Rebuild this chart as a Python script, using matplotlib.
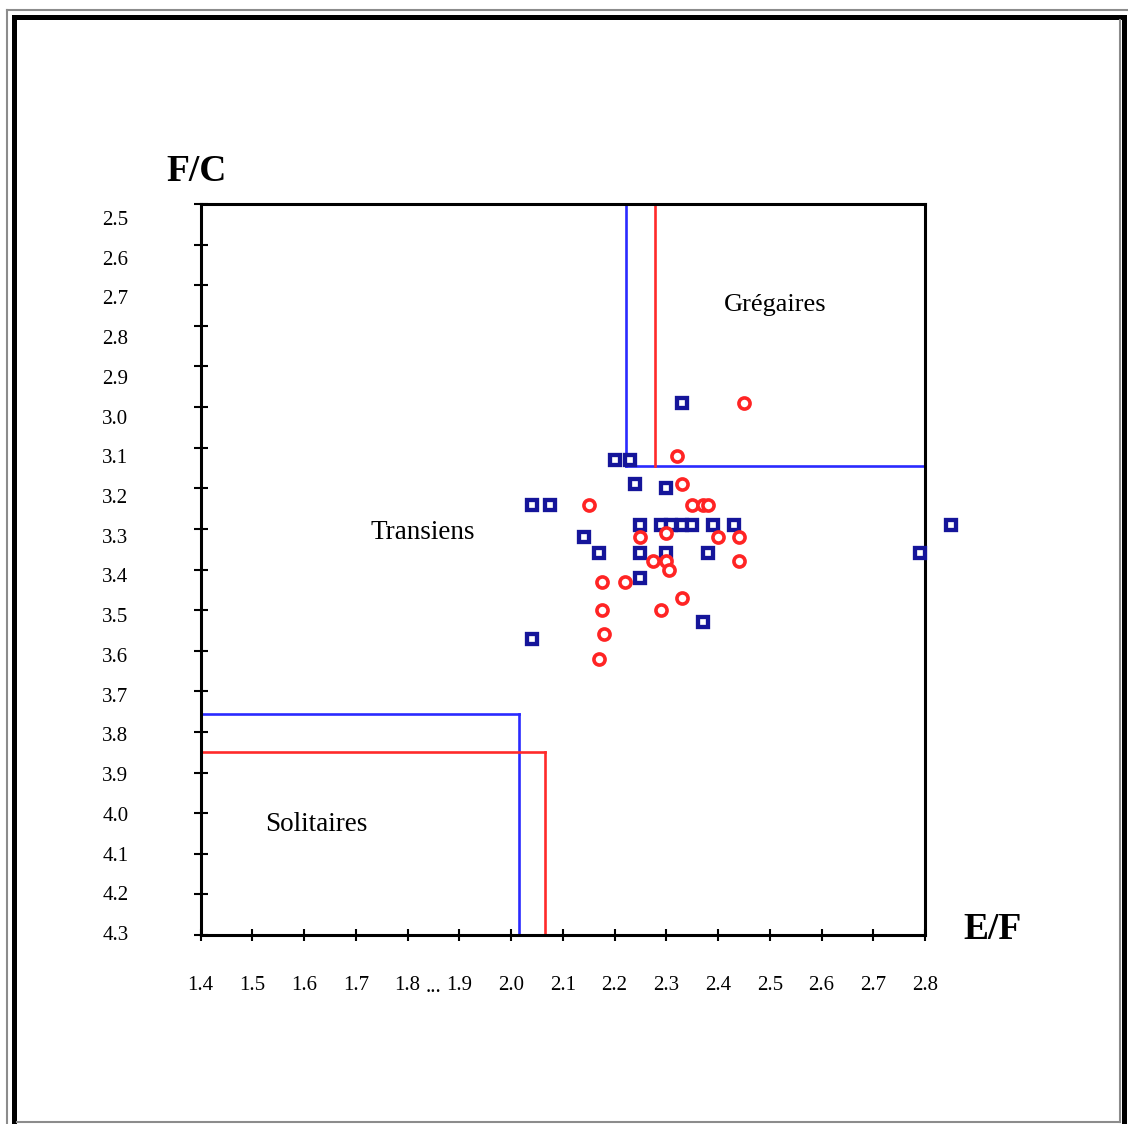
import matplotlib
matplotlib.use("Agg")
import matplotlib.pyplot as plt
import matplotlib.transforms as mtransforms
from matplotlib.lines import Line2D
from matplotlib.patches import Rectangle

plt.rcParams['font.family'] = ['Liberation Serif', 'DejaVu Serif']

# ---- data: E/F (x) versus F/C (y) ----
blue_x = [2.33, 2.20, 2.23, 2.24, 2.30, 2.04, 2.075, 2.25, 2.29, 2.31, 2.33,
          2.35, 2.39, 2.43, 2.14, 2.17, 2.25, 2.30, 2.38, 2.25, 2.37, 2.04,
          2.79, 2.85]
blue_y = [2.99, 3.13, 3.13, 3.19, 3.20, 3.24, 3.24, 3.29, 3.29, 3.29, 3.29,
          3.29, 3.29, 3.29, 3.32, 3.36, 3.36, 3.36, 3.36, 3.42, 3.53, 3.57,
          3.36, 3.29]

red_x = [2.45, 2.32, 2.33, 2.15, 2.35, 2.37, 2.38, 2.30, 2.25, 2.40, 2.44,
         2.275, 2.30, 2.305, 2.44, 2.175, 2.22, 2.33, 2.175, 2.29, 2.18, 2.17]
red_y = [2.99, 3.12, 3.19, 3.24, 3.24, 3.24, 3.24, 3.31, 3.32, 3.32, 3.32,
         3.38, 3.38, 3.40, 3.38, 3.43, 3.43, 3.47, 3.50, 3.50, 3.56, 3.62]

# phase thresholds (E/F, F/C)
greg_blue = (2.222, 3.145)
greg_red = (2.279, 3.145)
sol_blue = (2.016, 3.757)
sol_red = (2.065, 3.849)

x_ticks = [1.4, 1.5, 1.6, 1.7, 1.8, 1.9, 2.0, 2.1, 2.2, 2.3, 2.4, 2.5, 2.6, 2.7, 2.8]
x_labels = ['1.4', '1.5', '1.6', '1.7', '1.8', '1.9', '2.0', '2.1', '2.2', '2.3',
            '2.4', '2.5', '2.6', '2.7', '2.8']
y_ticks = [2.5, 2.6, 2.7, 2.8, 2.9, 3.0, 3.1, 3.2, 3.3, 3.4, 3.5, 3.6, 3.7, 3.8,
           3.9, 4.0, 4.1, 4.2, 4.3]
y_labels = ['2.5', '2.6', '2.7', '2.8', '2.9', '3.0', '3.1', '3.2', '3.3', '3.4',
            '3.5', '3.6', '3.7', '3.8', '3.9', '4.0', '4.1', '4.2', '4.3']

W, H = 1128, 1124
fig = plt.figure(figsize=(W / 100, H / 100), dpi=100)
fig.patch.set_facecolor('white')

ax_l, ax_r, ax_t, ax_b = 200.7, 925.0, 204.0, 935.0
ax = fig.add_axes([ax_l / W, (H - ax_b) / H, (ax_r - ax_l) / W, (ax_b - ax_t) / H])
ax.set_xlim(1.4, 2.8)
ax.set_ylim(4.3, 2.5)

for sp in ax.spines.values():
    sp.set_linewidth(2.2)
    sp.set_color('black')

BLUE_LINE = '#2a2aff'
RED_LINE = '#ff2a2a'
lw = 1.9

# gregarious corner
ax.plot([greg_blue[0], greg_blue[0]], [2.5, greg_blue[1]], color=BLUE_LINE, lw=lw, zorder=2)
ax.plot([greg_blue[0], 2.8], [greg_blue[1], greg_blue[1]], color=BLUE_LINE, lw=lw, zorder=2)
ax.plot([greg_red[0], greg_red[0]], [2.5, greg_red[1]], color=RED_LINE, lw=lw, zorder=2)

# solitary corner
ax.plot([1.4, sol_blue[0]], [sol_blue[1], sol_blue[1]], color=BLUE_LINE, lw=lw, zorder=2)
ax.plot([sol_blue[0], sol_blue[0]], [sol_blue[1], 4.3], color=BLUE_LINE, lw=lw, zorder=2)
ax.plot([1.4, sol_red[0]], [sol_red[1], sol_red[1]], color=RED_LINE, lw=lw, zorder=2)
ax.plot([sol_red[0], sol_red[0]], [sol_red[1], 4.3], color=RED_LINE, lw=lw, zorder=2)

# individuals
ax.plot(blue_x, blue_y, ls='none', marker='s', ms=7.4, mew=3.1,
        mec='#15159a', mfc='white', zorder=4, clip_on=False)
ax.plot(red_x, red_y, ls='none', marker='o', ms=8.0, mew=2.6,
        mec='#ff2424', mfc='white', zorder=4, clip_on=False)

# ticks
ax.set_xticks(x_ticks, x_labels)
ax.set_yticks(y_ticks, y_labels)
ax.tick_params(axis='x', direction='inout', length=8.6, width=1.5, pad=25.5,
               labelsize=15, colors='black')
ax.tick_params(axis='y', direction='inout', length=10, width=1.5, pad=47,
               labelsize=15, colors='black')
ax.minorticks_off()

# y labels drift slightly below their ticks toward the top of the scale
n = len(y_labels)
for i, lab in enumerate(ax.get_yticklabels()):
    dy = 14 - 16 * i / (n - 1)
    lab.set_transform(lab.get_transform() +
                      mtransforms.ScaledTranslation(0, -dy / 100, fig.dpi_scale_trans))

# ellipsis between 1.8 and 1.9
ax.text(1.85, -0.0775, '...', transform=ax.get_xaxis_transform(),
        ha='center', va='baseline', fontsize=15)

# region names
ax.text(2.51, 2.749, 'Grégaires', ha='center', va='center', fontsize=19)
ax.text(1.83, 3.308, 'Transiens', ha='center', va='center', fontsize=19.5)
ax.text(1.623, 4.027, 'Solitaires', ha='center', va='center', fontsize=19.5)

# axis names
ax.text(-0.0055, 1.0438, 'F/C', transform=ax.transAxes, ha='center', va='center',
        fontsize=27, fontweight='bold')
ax.text(1.0932, 0.007, 'E/F', transform=ax.transAxes, ha='center', va='center',
        fontsize=27, fontweight='bold')

# outer frame
def fx(px):
    return px / W

def fy(py):
    return (H - py) / H

fig.add_artist(Rectangle((fx(13.5), fy(1128)), fx(1124) - fx(13.5), fy(16.5) - fy(1128),
                         transform=fig.transFigure, fill=False, ec='black', lw=3.6))
gray = '#8c8c8c'
for xs, ys in [([7, 7], [10, 1130]), ([7, 1130], [10, 10]),
               ([1119.5, 1119.5], [20, 1122]), ([17, 1119.5], [1122, 1122])]:
    fig.add_artist(Line2D([fx(v) for v in xs], [fy(v) for v in ys],
                          transform=fig.transFigure, color=gray, lw=1.5))

fig.savefig('out.png', dpi=100)
